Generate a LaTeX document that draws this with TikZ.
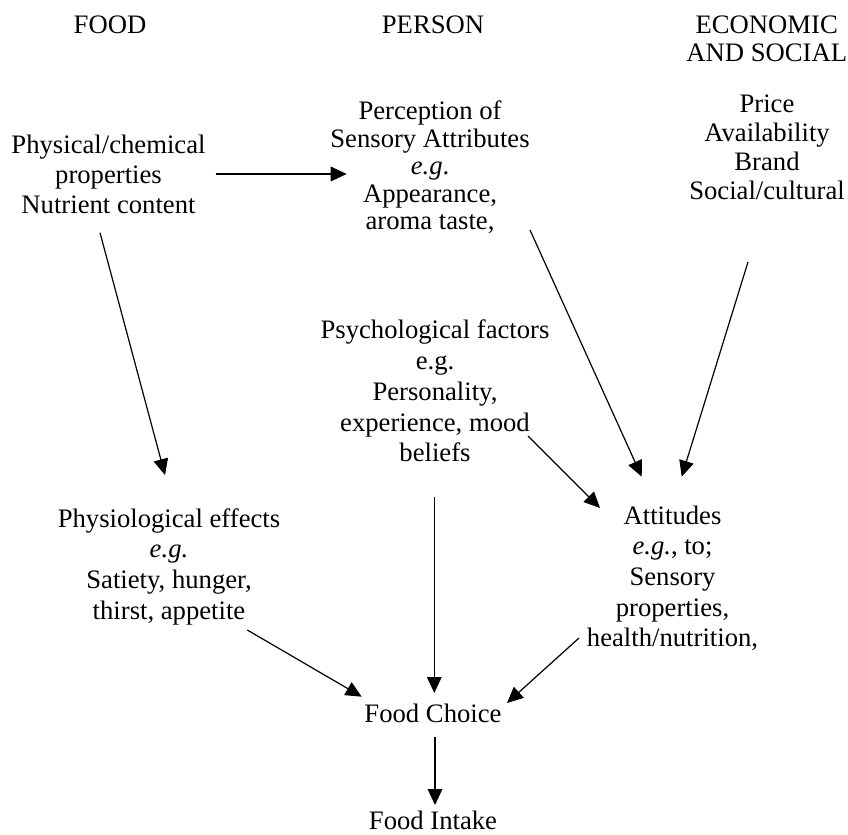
\documentclass[tikz,border=0pt]{standalone}
\usepackage{fontspec}
\setmainfont{Liberation Serif}
\usetikzlibrary{arrows.meta}
\newcommand{\blk}[2]{\fontsize{20}{#1}\selectfont\begin{tabular}[t]{@{}c@{}}#2\end{tabular}}
\begin{document}
\begin{tikzpicture}[x=0.75pt,y=-0.75pt,
  txt/.style={anchor=base,inner sep=0pt},
  one/.style={anchor=base,inner sep=0pt,font=\fontsize{20}{22}\selectfont},
  arr/.style={line width=0.9pt,-{Triangle[length=12pt,width=11pt]}}]
\useasboundingbox (0,0) rectangle (848,834);
% headings
\node[one] (food) at (110,33.3) {FOOD};
\node[one] (person) at (433,33.3) {PERSON};
\node[txt] (econ) at (766.7,33.3) {\blk{21.2pt}{ECONOMIC\\AND SOCIAL}};
% blocks
\node[txt] (price) at (767,113) {\blk{21.75pt}{Price\\Availability\\Brand\\Social/cultural}};
\node[txt] (phys) at (108.5,153.7) {\blk{22.5pt}{Physical/chemical\\properties\\Nutrient content}};
\node[txt] (perc) at (430,120) {\blk{20.6pt}{Perception of\\Sensory Attributes\\\textit{e.g}.\\Appearance,\\aroma taste,}};
\node[txt] (psych) at (435,338.7) {\blk{23.1pt}{Psychological factors\\e.g.\\Personality,\\experience, mood\\beliefs}};
\node[txt] (physio) at (169,527) {\blk{23pt}{Physiological effects\\\textit{e.g.}\\Satiety, hunger,\\thirst, appetite}};
\node[txt] (att) at (672.5,524) {\blk{23pt}{Attitudes\\\textit{e.g.},\ to;\\Sensory\\properties,\\health/nutrition,}};
\node[one] (choice) at (433,722) {Food Choice};
\node[one] (intake) at (433,829) {Food Intake};
% connector end points
\coordinate (a1s) at (215.7,174);   \coordinate (a1e) at (346.7,174);
\coordinate (a2s) at (100,232.7);   \coordinate (a2e) at (165,475);
\coordinate (a3s) at (530,230);     \coordinate (a3e) at (641.7,476.7);
\coordinate (a4s) at (748,262);     \coordinate (a4e) at (681.7,476.7);
\coordinate (a5s) at (528,436);     \coordinate (a5e) at (600,508);
\coordinate (a6s) at (434.3,496.7); \coordinate (a6e) at (434.3,693);
\coordinate (a7s) at (247.3,630);   \coordinate (a7e) at (361.7,696.7);
\coordinate (a8s) at (579,638);     \coordinate (a8e) at (507,703);
\coordinate (a9s) at (435,736.7);   \coordinate (a9e) at (435,805);
\draw[arr] (a1s) -- (a1e);
\draw[arr] (a2s) -- (a2e);
\draw[arr] (a3s) -- (a3e);
\draw[arr] (a4s) -- (a4e);
\draw[arr] (a5s) -- (a5e);
\draw[arr] (a6s) -- (a6e);
\draw[arr] (a7s) -- (a7e);
\draw[arr] (a8s) -- (a8e);
\draw[arr] (a9s) -- (a9e);
\end{tikzpicture}
\end{document}
